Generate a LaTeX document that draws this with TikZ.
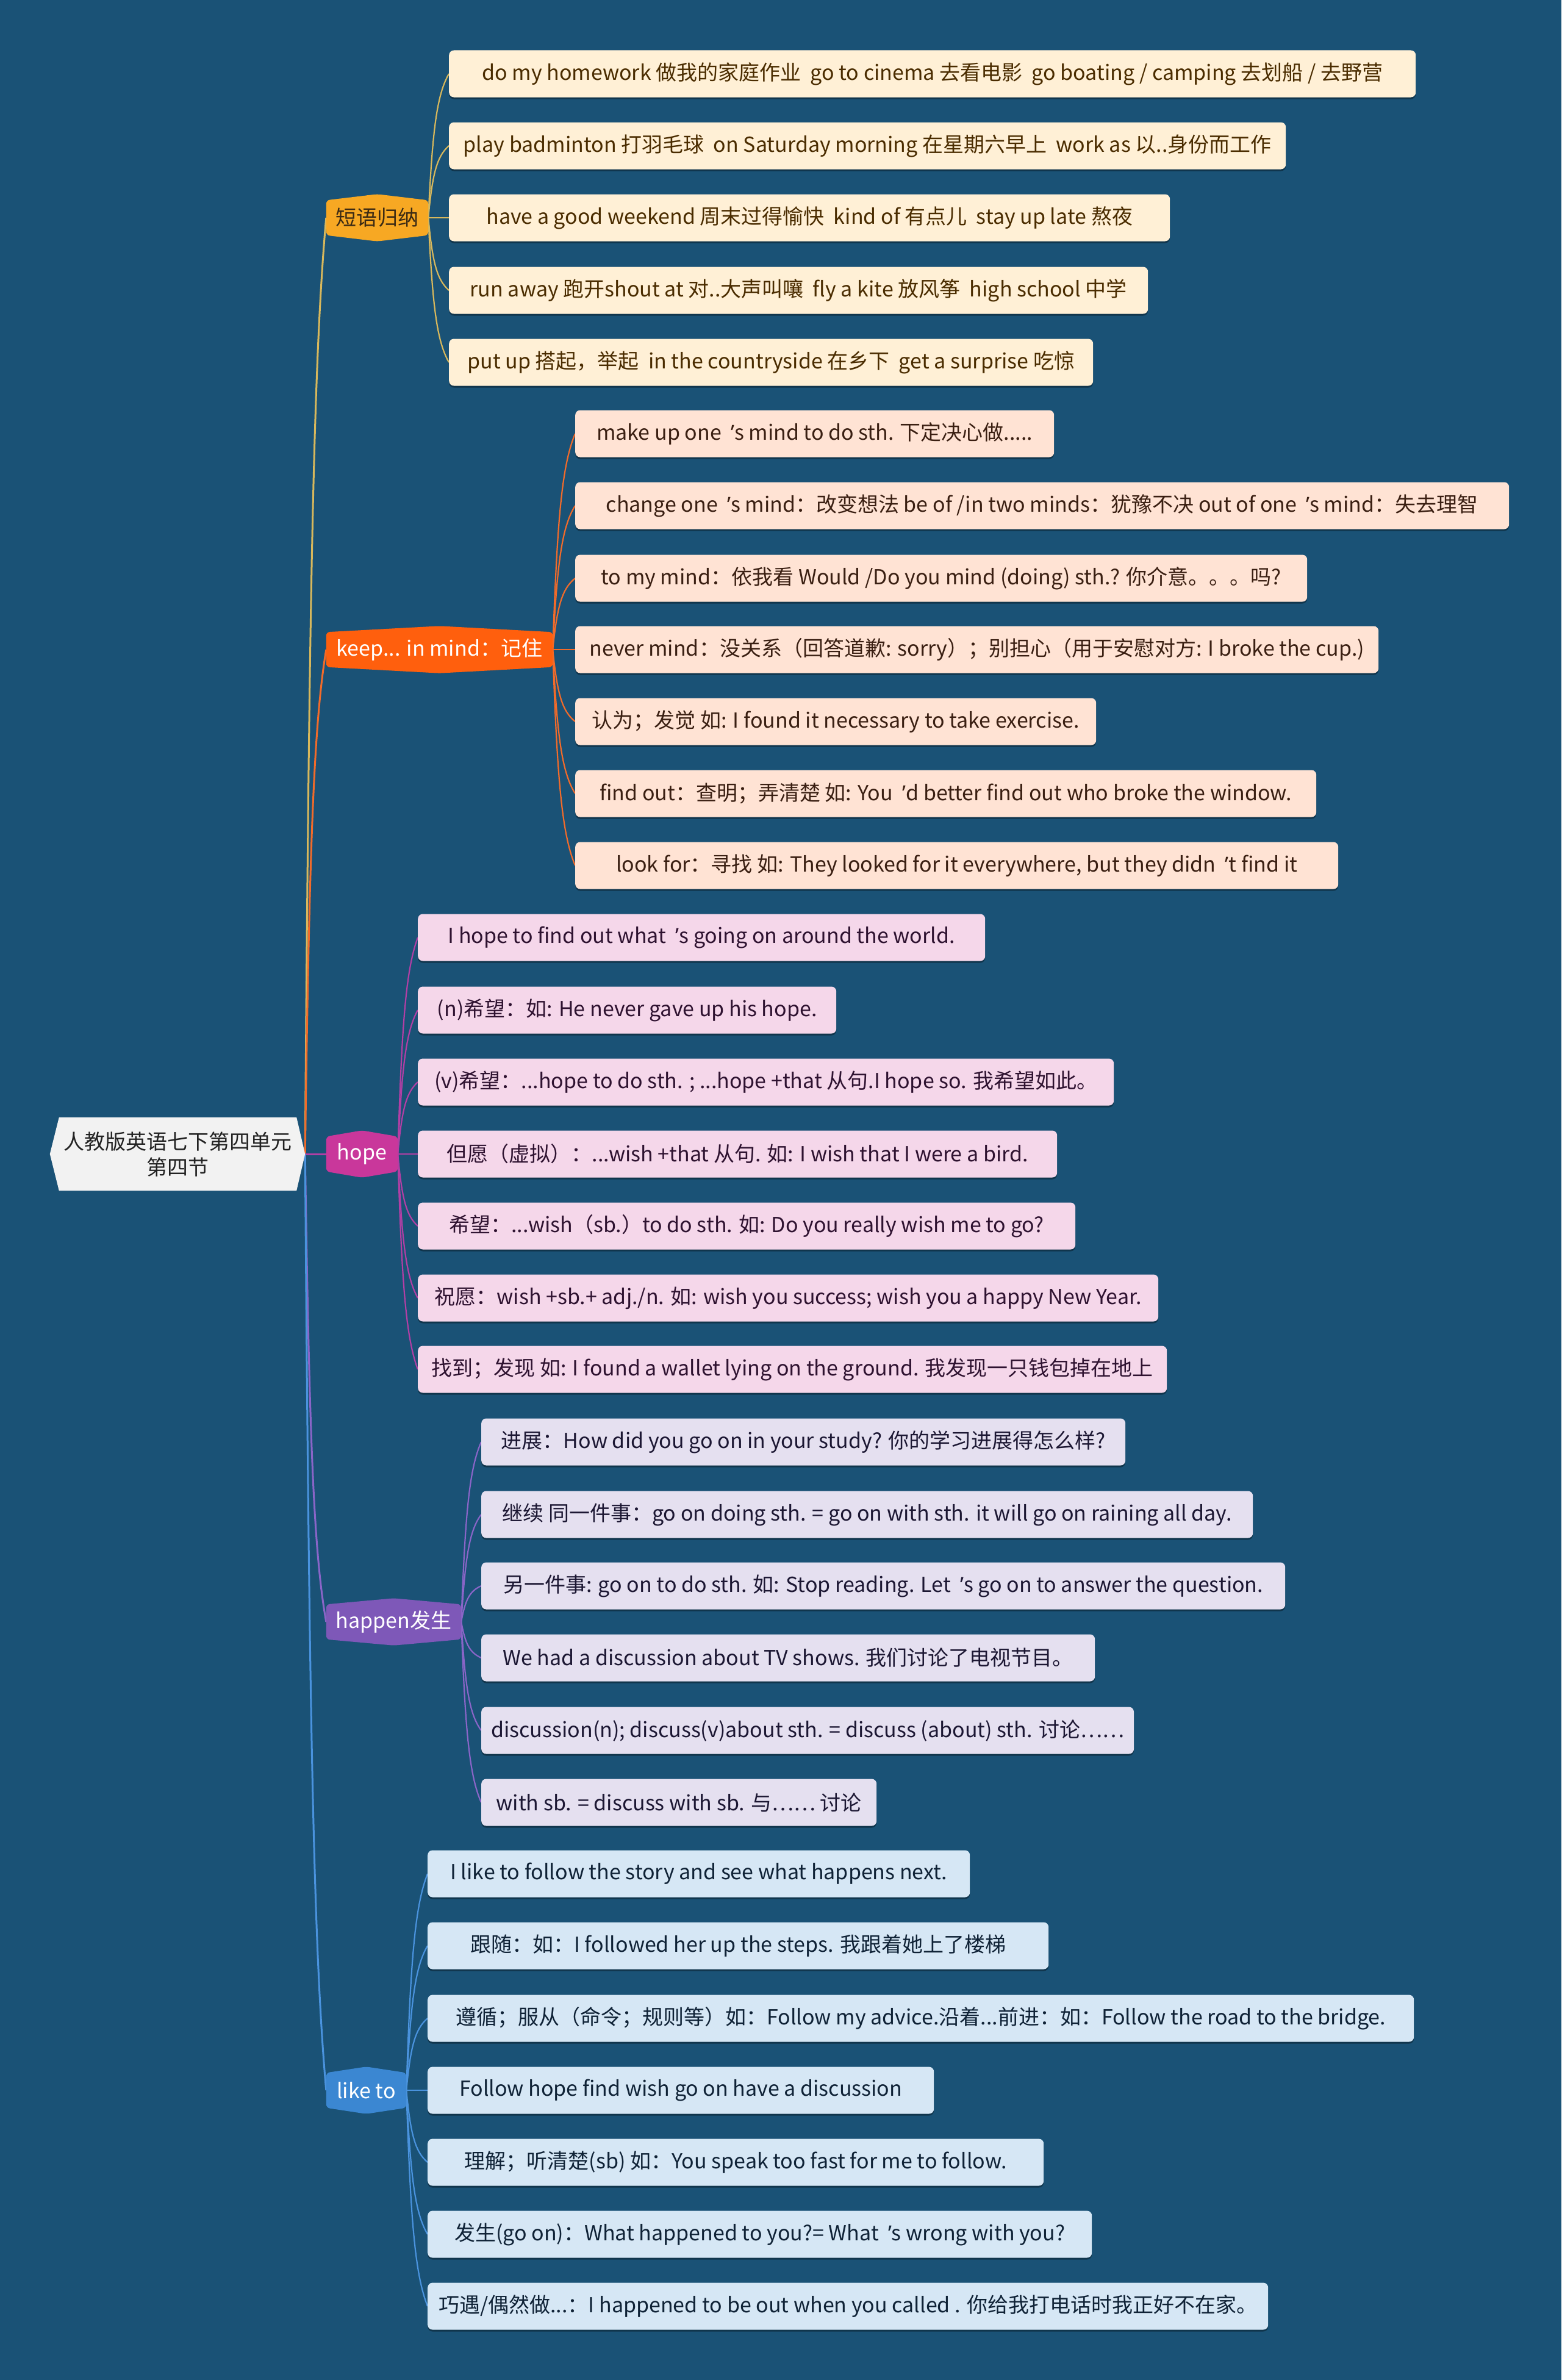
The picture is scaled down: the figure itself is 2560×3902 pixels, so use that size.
\documentclass[tikz,border=0pt]{standalone}
\usepackage{fontspec}
\setmainfont{Noto Sans CJK SC}
\newfontfamily\latf{Noto Sans}
\newcommand\q{{\latf ’}}
\usetikzlibrary{calc,shadows}
\pgfdeclarelayer{bg}
\pgfdeclarelayer{lines}
\pgfsetlayers{bg,lines,main}
\definecolor{bgc}{RGB}{26,82,118}
\definecolor{rootc}{HTML}{F2F2F2}
\definecolor{rootT}{HTML}{222222}
% branch A
\definecolor{bA}{HTML}{F7A823}\definecolor{fA}{HTML}{FFF0D6}\definecolor{tA}{HTML}{4A2C00}\definecolor{lA}{HTML}{D8B85C}\definecolor{btA}{HTML}{3B2A14}
% branch B
\definecolor{bB}{HTML}{FF5F0D}\definecolor{fB}{HTML}{FFE3D4}\definecolor{tB}{HTML}{3A1F12}\definecolor{lB}{HTML}{F26B2A}
% branch C
\definecolor{bC}{HTML}{C9379B}\definecolor{fC}{HTML}{F5D7EA}\definecolor{tC}{HTML}{2E1230}\definecolor{lC}{HTML}{B23FA5}
% branch D
\definecolor{bD}{HTML}{7E58B8}\definecolor{fD}{HTML}{E5E0F0}\definecolor{tD}{HTML}{1C1733}\definecolor{lD}{HTML}{8A65C8}
% branch E
\definecolor{bE}{HTML}{3B87D2}\definecolor{fE}{HTML}{D6E7F5}\definecolor{tE}{HTML}{0F2236}\definecolor{lE}{HTML}{4A93DE}
\newcommand\mmfont{\fontsize{34}{42}\selectfont}
\tikzset{
  leaf/.style={rounded corners=8pt, minimum height=77pt, inner xsep=16pt, inner ysep=0pt, anchor=west, font=\mmfont,
    drop shadow={shadow xshift=0pt, shadow yshift=-3pt, opacity=0.35, fill=black}},
  leafA/.style={leaf, fill=fA, text=tA},
  leafB/.style={leaf, fill=fB, text=tB},
  leafC/.style={leaf, fill=fC, text=tC},
  leafD/.style={leaf, fill=fD, text=tD},
  leafE/.style={leaf, fill=fE, text=tE},
  branchnode/.style={minimum height=77pt, inner sep=0pt, font=\mmfont},
  rootline/.style={line width=3pt},
  leafline/.style={line width=2.2pt},
}
\newcommand\lf[5]{\node[#1, minimum width=#2] (#3) at #4 {#5};}
\newcommand\conn[3]{\draw[#1] let \p1=(#2), \p2=(#3) in (\p1) .. controls ({\x1+0.2*(\x2-\x1)},{\y1+0.6*(\y2-\y1)}) and ({\x2-0.6*(\x2-\x1)},{\y2-0.15*(\y2-\y1)}) .. (\p2);}
\newcommand\bshape[2]{\fill[#2, rounded corners=6pt] ([yshift=-10pt]#1.north west) -- (#1.north) -- ([yshift=-10pt]#1.north east) -- ([yshift=10pt]#1.south east) -- (#1.south) -- ([yshift=10pt]#1.south west) -- cycle;}
\begin{document}
\begin{tikzpicture}[x=1pt,y=1pt]
\useasboundingbox (0,0) rectangle (2560,-3902);
\begin{pgfonlayer}{bg}
\fill[bgc] (0,0) rectangle (2560,-3902);
\end{pgfonlayer}

% root
\node[minimum width=418pt, minimum height=120pt, inner sep=0pt, align=center, text=rootT, font=\mmfont] (root) at (291,-1892) {人教版英语七下第四单元\\第四节};

% branches
\node[branchnode, minimum width=167pt, text=btA] (bA) at (618.5,-357) {短语归纳};
\node[branchnode, minimum width=371pt, text=white] (bB) at (720.5,-1065) {keep... in mind：记住};
\node[branchnode, minimum width=117pt, text=white] (bC) at (593.5,-1892) {hope};
\node[branchnode, minimum width=221pt, text=white] (bD) at (645.5,-2659) {happen发生};
\node[branchnode, minimum width=131pt, text=white] (bE) at (600.5,-3427) {like to};

% leaves A
\lf{leafA}{1585pt}{a1}{(736,-121)}{do my homework 做我的家庭作业 \ go to cinema 去看电影 \ go boating / camping 去划船 / 去野营}
\lf{leafA}{1372pt}{a2}{(736,-239)}{play badminton 打羽毛球 \ on Saturday morning 在星期六早上 \ work as 以..身份而工作}
\lf{leafA}{1182pt}{a3}{(736,-357)}{have a good weekend 周末过得愉快 \ kind of 有点儿 \ stay up late 熬夜}
\lf{leafA}{1146pt}{a4}{(736,-476)}{run away 跑开shout at 对..大声叫嚷 \ fly a kite 放风筝 \ high school 中学}
\lf{leafA}{1056pt}{a5}{(736,-594)}{put up 搭起，举起 \ in the countryside 在乡下 \ get a surprise 吃惊}

% leaves B
\lf{leafB}{785pt}{b1}{(943,-711)}{make up one \ \q{}s mind to do sth. 下定决心做.....}
\lf{leafB}{1531pt}{b2}{(943,-829)}{change one \ \q{}s mind：改变想法 be of /in two minds：犹豫不决 out of one \ \q{}s mind：失去理智}
\lf{leafB}{1200pt}{b3}{(943,-948)}{to my mind：依我看 Would /Do you mind (doing) sth.? 你介意。。。吗?}
\lf{leafB}{1317pt}{b4}{(943,-1065)}{never mind：没关系（回答道歉: sorry）；别担心（用于安慰对方: I broke the cup.)}
\lf{leafB}{854pt}{b5}{(943,-1183)}{认为；发觉 如: I found it necessary to take exercise.}
\lf{leafB}{1215pt}{b6}{(943,-1301)}{find out：查明；弄清楚 如: You \ \q{}d better find out who broke the window.}
\lf{leafB}{1251pt}{b7}{(943,-1419)}{look for：寻找 如: They looked for it everywhere, but they didn \ \q{}t find it}

% leaves C
\lf{leafC}{930pt}{c1}{(685,-1537)}{I hope to find out what \ \q{}s going on around the world.}
\lf{leafC}{686pt}{c2}{(685,-1656)}{(n)希望：如: He never gave up his hope.}
\lf{leafC}{1141pt}{c3}{(685,-1774)}{(v)希望：...hope to do sth. ; ...hope +that 从句.I hope so. 我希望如此。}
\lf{leafC}{1048pt}{c4}{(685,-1892)}{但愿（虚拟）：...wish +that 从句. 如: I wish that I were a bird.}
\lf{leafC}{1078pt}{c5}{(685,-2010)}{希望：...wish（sb.）to do sth. 如: Do you really wish me to go?}
\lf{leafC}{1214pt}{c6}{(685,-2128)}{祝愿：wish +sb.+ adj./n. 如: wish you success; wish you a happy New Year.}
\lf{leafC}{1228pt}{c7}{(685,-2245)}{找到；发现 如: I found a wallet lying on the ground. 我发现一只钱包掉在地上}

% leaves D
\lf{leafD}{1056pt}{d1}{(789,-2364)}{进展：How did you go on in your study? 你的学习进展得怎么样?}
\lf{leafD}{1265pt}{d2}{(789,-2483)}{继续 同一件事：go on doing sth. = go on with sth. it will go on raining all day.}
\lf{leafD}{1318pt}{d3}{(789,-2600)}{另一件事: go on to do sth. 如: Stop reading. Let \ \q{}s go on to answer the question.}
\lf{leafD}{1006pt}{d4}{(789,-2718)}{We had a discussion about TV shows. 我们讨论了电视节目。}
\lf{leafD}{1052pt}{d5}{(789,-2837)}{discussion(n); discuss(v)about sth. = discuss (about) sth. 讨论……}
\lf{leafD}{648pt}{d6}{(789,-2955)}{with sb. = discuss with sb. 与…… 讨论}

% leaves E
\lf{leafE}{889pt}{e1}{(701,-3072)}{I like to follow the story and see what happens next.}
\lf{leafE}{1018pt}{e2}{(701,-3190)}{跟随：如：I followed her up the steps. 我跟着她上了楼梯}
\lf{leafE}{1617pt}{e3}{(701,-3309)}{遵循；服从（命令；规则等）如：Follow my advice.沿着...前进：如：Follow the road to the bridge.}
\lf{leafE}{830pt}{e4}{(701,-3427)}{Follow hope find wish go on have a discussion}
\lf{leafE}{1010pt}{e5}{(701,-3545)}{理解；听清楚(sb) 如：You speak too fast for me to follow.}
\lf{leafE}{1089pt}{e6}{(701,-3663)}{发生(go on)：What happened to you?= What \ \q{}s wrong with you?}
\lf{leafE}{1378pt}{e7}{(701,-3781)}{巧遇/偶然做...：I happened to be out when you called . 你给我打电话时我正好不在家。}

\begin{pgfonlayer}{lines}
% root to branches
\conn{rootline, lA}{root.east}{bA.west}
\conn{rootline, lB}{root.east}{bB.west}
\conn{rootline, lC}{root.east}{bC.west}
\conn{rootline, lD}{root.east}{bD.west}
\conn{rootline, lE}{root.east}{bE.west}
% branch to leaves
\foreach \l in {a1,a2,a3,a4,a5}{\conn{leafline, lA}{bA.east}{\l.west}}
\foreach \l in {b1,b2,b3,b4,b5,b6,b7}{\conn{leafline, lB}{bB.east}{\l.west}}
\foreach \l in {c1,c2,c3,c4,c5,c6,c7}{\conn{leafline, lC}{bC.east}{\l.west}}
\foreach \l in {d1,d2,d3,d4,d5,d6}{\conn{leafline, lD}{bD.east}{\l.west}}
\foreach \l in {e1,e2,e3,e4,e5,e6,e7}{\conn{leafline, lE}{bE.east}{\l.west}}
% shapes
\bshape{bA}{bA}
\bshape{bB}{bB}
\bshape{bC}{bC}
\bshape{bD}{bD}
\bshape{bE}{bE}
\fill[rootc] (root.west) -- ([xshift=15pt]root.north west) -- ([xshift=-14pt]root.north east) -- (root.east) -- ([xshift=-14pt]root.south east) -- ([xshift=15pt]root.south west) -- cycle;
\end{pgfonlayer}
\end{tikzpicture}
\end{document}
